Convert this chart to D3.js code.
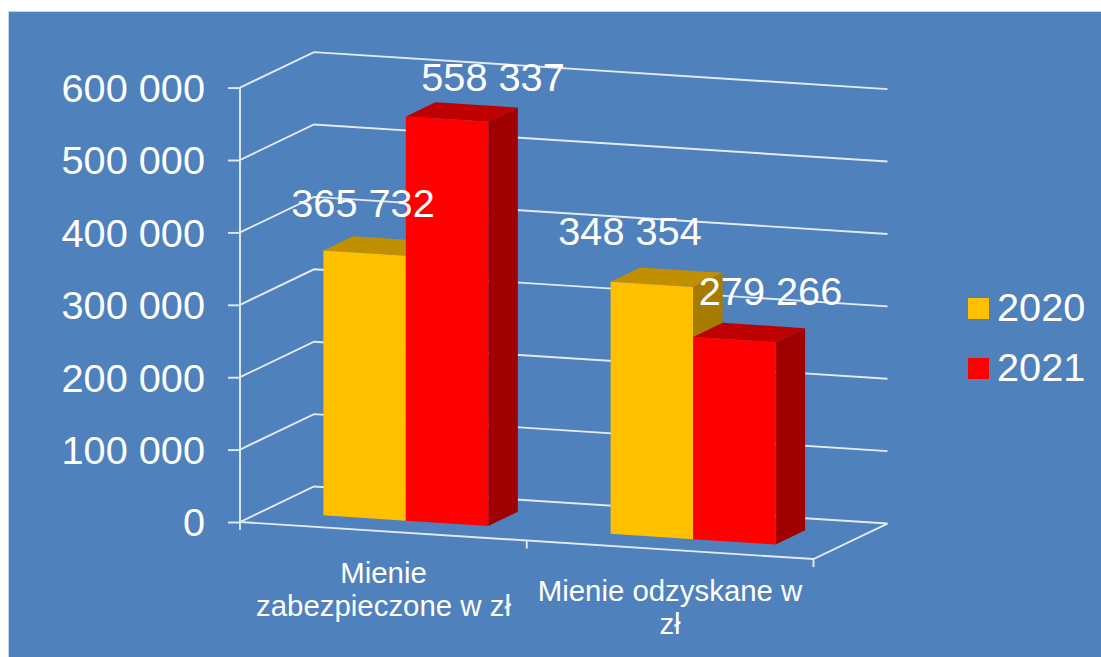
<!DOCTYPE html>
<html>
<head>
  <meta charset='utf-8'>
  <title>Mienie zabezpieczone i odzyskane</title>
  <script src='https://cdn.jsdelivr.net/npm/d3@7'></script>
  <style type='text/css'>
    html, body { margin: 0; padding: 0; background: #fff; overflow: hidden; }
    svg { display: block; }
    text { font-family: 'Liberation Sans', Arial, sans-serif; fill: #fff; }
  </style>
</head>
<body>
  <div id='plot-container'></div>
  <script>
    const categories = [['Mienie', 'zabezpieczone w zł'], ['Mienie odzyskane w', 'zł']];
    const seriesNames = ['2020', '2021'];
    const values2020 = [365732, 348354];
    const values2021 = [558337, 279266];
    const yTicks = [0, 100000, 200000, 300000, 400000, 500000, 600000];
    const dataLabels2020 = ['365 732', '348 354'];
    const dataLabels2021 = ['558 337', '279 266'];

    const colors = {
        2020: { front: '#ffc000', top: '#c09000', side: '#a67c00' },
        2021: { front: '#ff0000', top: '#bf0000', side: '#a00000' }
    };
    const gridColor = '#e2eaf4';
    const bigFont = '39.7px';

    const svg = d3.select('#plot-container').append('svg')
        .attr('width', 1101)
        .attr('height', 657);

    svg.append('rect')
        .attr('x', 8.5).attr('y', 11.5)
        .attr('width', 1100).attr('height', 650)
        .attr('fill', '#4f81bd')
        .attr('stroke', '#c6d6ea');

    // oblique projection of the 3d box
    const origin = { x: 240, y: 522 };
    const depthShift = { x: 74, y: -35.5 };
    const frontWidth = 573.5;
    const slope = 37 / 572.7;
    const y = d3.scaleLinear().domain([0, 600000]).range([origin.y, 87.6]);
    const xCat = d3.scaleBand().domain([0, 1]).range([0, 574.5]);
    const xSeries = d3.scaleBand().domain(seriesNames)
        .range([xCat.bandwidth() * 0.213, xCat.bandwidth() * 0.787]);

    // u: px along the front edge, z: 0 front .. 1 back
    function project(u, z, v) {
        return [
            origin.x + u + z * depthShift.x,
            y(v) + u * slope + z * depthShift.y
        ];
    }
    const polyLine = d3.line();

    // walls and floor
    const grid = svg.append('g')
        .attr('fill', 'none')
        .attr('stroke', gridColor)
        .attr('stroke-width', 1.9);
    grid.selectAll('.grid')
        .data(yTicks)
        .enter()
        .append('path')
        .attr('class', 'grid')
        .attr('d', d => polyLine([project(0, 0, d), project(0, 1, d), project(frontWidth, 1, d)]));
    grid.append('path')
        .attr('d', polyLine([project(0, 0, 0), project(frontWidth, 0, 0), project(frontWidth, 1, 0)]));
    grid.selectAll('.x-tick')
        .data([0, 1, 2])
        .enter()
        .append('path')
        .attr('class', 'x-tick')
        .attr('d', d => {
            const p = project(d * frontWidth / 2, 0, 0);
            return polyLine([p, [p[0], p[1] + 8]]);
        });

    // y axis
    const yAxis = svg.append('g')
        .attr('transform', `translate(${origin.x}, 0)`)
        .call(d3.axisLeft(y)
            .tickValues(yTicks)
            .tickSize(12)
            .tickPadding(23)
            .tickFormat(d => d3.format(',')(d).replace(/,/g, ' ')));
    yAxis.selectAll('line, path').attr('stroke', gridColor).attr('stroke-width', 1.9);
    yAxis.select('.domain').attr('d', `M0,${y(600000)}V${y(0)}`);
    yAxis.selectAll('text')
        .style('font-size', bigFont)
        .attr('fill', '#fff')
        .attr('dy', '0.35em');

    // bars, back to front, left to right
    const rows = [];
    categories.forEach((c, i) => {
        seriesNames.forEach((s, j) => {
            rows.push({
                series: s,
                u0: xCat(i) + xSeries(s),
                u1: xCat(i) + xSeries(s) + xSeries.bandwidth(),
                value: (j === 0 ? values2020 : values2021)[i]
            });
        });
    });
    const zFront = 0.3;
    const zBack = 0.7;
    const bars = svg.selectAll('.bar')
        .data(rows)
        .enter()
        .append('g')
        .attr('class', 'bar');
    const closed = pts => polyLine(pts) + 'Z';
    bars.append('path')
        .attr('fill', d => colors[d.series].side)
        .attr('d', d => closed([
            project(d.u1, zFront, 0), project(d.u1, zBack, 0),
            project(d.u1, zBack, d.value), project(d.u1, zFront, d.value)
        ]));
    bars.append('path')
        .attr('fill', d => colors[d.series].top)
        .attr('d', d => closed([
            project(d.u0, zFront, d.value), project(d.u1, zFront, d.value),
            project(d.u1, zBack, d.value), project(d.u0, zBack, d.value)
        ]));
    bars.append('path')
        .attr('fill', d => colors[d.series].front)
        .attr('d', d => closed([
            project(d.u0, zFront, 0), project(d.u1, zFront, 0),
            project(d.u1, zFront, d.value), project(d.u0, zFront, d.value)
        ]));

    // data labels
    const labelSpots = [
        { text: dataLabels2020[0], x: 363, y: 217 },
        { text: dataLabels2021[0], x: 493, y: 91 },
        { text: dataLabels2020[1], x: 630, y: 245 },
        { text: dataLabels2021[1], x: 770.5, y: 305 }
    ];
    svg.selectAll('.data-label')
        .data(labelSpots)
        .enter()
        .append('text')
        .attr('class', 'data-label')
        .attr('x', d => d.x)
        .attr('y', d => d.y)
        .attr('text-anchor', 'middle')
        .style('font-size', bigFont)
        .text(d => d.text);

    // category labels
    const catCenters = [383.5, 670];
    const catBaselines = [[583, 616], [601, 634]];
    categories.forEach((lines, i) => {
        lines.forEach((line, k) => {
            svg.append('text')
                .attr('x', catCenters[i])
                .attr('y', catBaselines[i][k])
                .attr('text-anchor', 'middle')
                .style('font-size', '29.4px')
                .text(line);
        });
    });

    // legend
    const legend = svg.selectAll('.legend')
        .data(seriesNames)
        .enter()
        .append('g')
        .attr('class', 'legend')
        .attr('transform', (d, i) => `translate(968, ${298 + i * 60})`);
    legend.append('rect')
        .attr('width', 21)
        .attr('height', 21)
        .attr('fill', d => colors[d].front);
    legend.append('text')
        .attr('x', 29)
        .attr('y', 23)
        .style('font-size', bigFont)
        .text(d => d);
  </script>
</body>
</html>
